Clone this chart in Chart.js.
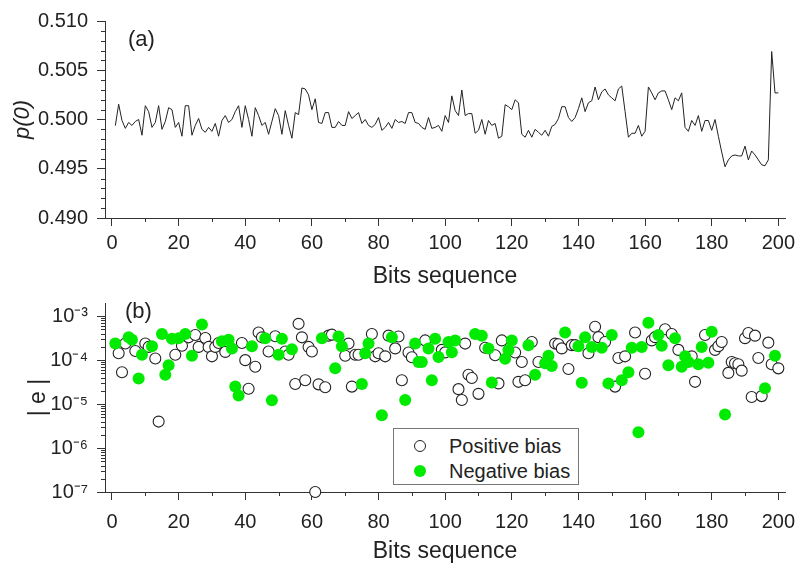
<!DOCTYPE html>
<html>
<head>
<meta charset="utf-8">
<script src="https://cdn.jsdelivr.net/npm/chart.js@4.4.1/dist/chart.umd.min.js"></script>
<style>
  body { margin: 0; background: #fff; }
  #wrap { position: relative; width: 795px; height: 565px; font-family: "Liberation Sans", Arial, sans-serif; color: #222; }
  canvas { position: absolute; left: 0; }
  .panel { position: absolute; font-size: 22px; }
  #legend { position: absolute; left: 393px; top: 428px; width: 184px; height: 55px; border: 1px solid #777; background: #fff; font-size: 20px; }
  .row { position: absolute; left: 55px; line-height: 24px; }
  .mk { position: absolute; box-sizing: border-box; border-radius: 50%; }
</style>
</head>
<body>
<div id="wrap">
  <canvas id="bottomChart" width="795" height="283" style="top:282px"></canvas>
  <canvas id="topChart" width="795" height="290" style="top:0"></canvas>
  <div class="panel" style="left:128px;top:26px">(a)</div>
  <div class="panel" style="left:125px;top:298px">(b)</div>
  <div id="legend">
    <span class="mk" style="left:20px;top:11px;width:12px;height:12px;border:1.2px solid #222;background:#fff"></span>
    <div class="row" style="top:5px">Positive bias</div>
    <span class="mk" style="left:20px;top:36px;width:12px;height:12px;background:rgb(0,235,0)"></span>
    <div class="row" style="top:30px">Negative bias</div>
  </div>
</div>
<script>
// bit index 1..200
const bits = [];
for (let i = 1; i <= 200; i++) bits.push(i);

// panel (a): p(0) per bit
const p0 = [
  0.49938, 0.50155, 0.4999, 0.4991, 0.4997, 0.4994, 0.4998, 0.5000, 0.4984, 0.5014,
  0.5008, 0.4992, 0.4997, 0.5014, 0.4990, 0.4998, 0.5012, 0.5010, 0.4992, 0.4997,
  0.4983, 0.5014, 0.5014, 0.4984, 0.4994, 0.5001, 0.4990, 0.4987, 0.4992, 0.4988,
  0.4996, 0.4983, 0.4999, 0.5004, 0.4997, 0.5000, 0.5008, 0.5014, 0.4992, 0.5014,
  0.5000, 0.4983, 0.5012, 0.5004, 0.4994, 0.4997, 0.4985, 0.4998, 0.5011, 0.5004,
  0.4985, 0.5009, 0.4994, 0.4981, 0.5007, 0.5005, 0.5032, 0.5031, 0.5025, 0.5010,
  0.5021, 0.4997, 0.4996, 0.5007, 0.5007, 0.4992, 0.4992, 0.4998, 0.4994, 0.4994,
  0.5008, 0.5001, 0.5004, 0.5007, 0.4996, 0.5000, 0.4994, 0.4992, 0.4995, 0.5002,
  0.4989, 0.4992, 0.4997, 0.4991, 0.5000, 0.4997, 0.4998, 0.4996, 0.5007, 0.5007,
  0.4997, 0.4996, 0.4992, 0.4990, 0.5002, 0.4991, 0.4992, 0.4994, 0.4988, 0.5004,
  0.4997, 0.5024, 0.5009, 0.5004, 0.5030, 0.5004, 0.5006, 0.5006, 0.4986, 0.4989,
  0.5000, 0.4985, 0.4999, 0.4994, 0.4996, 0.4981, 0.4983, 0.5015, 0.5013, 0.5010,
  0.5020, 0.5017, 0.4985, 0.4982, 0.4989, 0.4982, 0.4990, 0.4987, 0.4984, 0.4989,
  0.4983, 0.4993, 0.4995, 0.5001, 0.5013, 0.5013, 0.5002, 0.4998, 0.5002, 0.5011,
  0.5022, 0.5008, 0.5017, 0.5019, 0.5033, 0.5020, 0.5028, 0.5031, 0.5025, 0.5022,
  0.5019, 0.5031, 0.5034, 0.5008, 0.4982, 0.4986, 0.4986, 0.4994, 0.4983, 0.4988,
  0.5033, 0.5027, 0.5020, 0.5027, 0.5029, 0.5029, 0.5020, 0.5010, 0.5022, 0.5019,
  0.5027, 0.4992, 0.4988, 0.4999, 0.4994, 0.5004, 0.4988, 0.4999, 0.4999, 0.4989,
  0.5000, 0.4983, 0.4967, 0.4952, 0.4959, 0.4963, 0.4964, 0.4963, 0.4963, 0.4973,
  0.4959, 0.4968, 0.4964, 0.4959, 0.4954, 0.4953, 0.4959, 0.5069, 0.5027, 0.5027
];

// panel (b): |e|, positive bias
const posBits = [2, 3, 4, 7, 10, 11, 13, 14, 19, 21, 23, 25, 26, 28, 29, 30, 31, 32, 34, 39,
  40, 41, 43, 44, 45, 47, 49, 52, 53, 55, 56, 57, 58, 59, 60, 61, 62, 64, 65, 66,
  70, 71, 72, 73, 74, 78, 79, 80, 82, 83, 85, 86, 87, 89, 90, 94, 99, 100, 104, 105,
  106, 107, 108, 110, 112, 115, 116, 117, 121, 122, 123, 124, 126, 128, 133, 134, 135, 137, 138, 139,
  143, 145, 146, 148, 151, 152, 154, 157, 160, 162, 163, 166, 168, 170, 174, 175, 178, 181, 182, 183,
  185, 186, 187, 188, 189, 190, 191, 192, 193, 194, 195, 197, 198, 200];
const posErr = [1.44e-4, 5.3e-5, 2.4e-4, 1.62e-4, 2.4e-4, 2.0e-4, 1.09e-4, 4.0e-6, 1.33e-4, 2.12e-4,
  3.3e-4, 3.73e-4, 2.0e-4, 3.2e-4, 2.0e-4, 1.22e-4, 2.0e-4, 2.46e-4, 1.54e-4, 2.46e-4,
  1.0e-4, 2.23e-5, 7.05e-5, 4.26e-4, 3.3e-4, 1.57e-4, 3.49e-4, 1.57e-4, 1.33e-4, 2.87e-5,
  6.7e-4, 3.3e-4, 3.49e-5, 2.0e-4, 1.57e-4, 1.0e-7, 2.81e-5, 2.42e-5, 3.61e-4, 3.8e-4,
  1.26e-4, 2.38e-4, 2.5e-5, 1.33e-4, 1.33e-4, 3.93e-4, 1.22e-4, 1.44e-4, 1.22e-4, 3.61e-4,
  1.85e-4, 3.44e-4, 3.49e-5, 1.49e-4, 1.16e-4, 2.81e-4, 1.71e-4, 1.5e-4, 2.19e-5, 1.24e-5,
  2.38e-4, 4.65e-5, 3.93e-5, 1.71e-5, 1.92e-4, 1.29e-4, 2.96e-5, 2.81e-4, 1.49e-4, 3.21e-5,
  9.05e-5, 3.49e-5, 2.59e-4, 9.05e-5, 2.38e-4, 2.3e-4, 1.85e-4, 6.27e-5, 2.19e-4, 2.19e-4,
  1.44e-4, 5.77e-4, 3.33e-4, 2.59e-4, 2.5e-5, 1.12e-4, 1.22e-4, 4.26e-4, 4.9e-5, 2.81e-4,
  3.33e-4, 5.04e-4, 3.93e-4, 1.71e-4, 1.22e-4, 3.21e-5, 3.73e-4, 1.71e-4, 2.08e-4, 2.59e-4,
  5.13e-5, 9.05e-5, 8.47e-5, 8.05e-5, 5.77e-5, 3.16e-4, 4.13e-4, 1.45e-5, 3.61e-4, 1.12e-4,
  1.52e-5, 2.5e-4, 8.05e-5, 6.5e-5];

// panel (b): |e|, negative bias
const negBits = [1, 5, 6, 8, 9, 12, 15, 16, 17, 18, 20, 22, 24, 27, 33, 35, 36, 37, 38, 42,
  46, 48, 50, 51, 54, 63, 67, 68, 69, 75, 76, 77, 81, 84, 88, 91, 92, 93, 95, 96,
  97, 98, 101, 102, 103, 109, 111, 113, 114, 118, 119, 120, 125, 127, 130, 131, 132, 136, 140, 141,
  142, 144, 147, 149, 150, 153, 155, 156, 158, 159, 161, 164, 165, 167, 169, 171, 172, 173, 176, 177,
  179, 180, 184, 196, 199];
const negErr = [2.38e-4, 3.33e-4, 2.91e-4, 3.8e-5, 1.33e-4, 2.08e-4, 3.93e-4, 4.65e-5, 7.66e-5, 3.06e-4,
  3.16e-4, 3.93e-4, 1.26e-4, 6.49e-4, 2.68e-4, 2.91e-4, 1.85e-4, 2.5e-5, 1.57e-5, 2.08e-4,
  3.16e-4, 1.22e-5, 1.33e-4, 3.06e-4, 1.76e-4, 3.16e-4, 6.5e-5, 3.44e-4, 2.08e-4, 2.87e-5,
  1.44e-4, 2.38e-4, 5.57e-6, 3.33e-4, 1.24e-5, 2.38e-4, 9.05e-5, 9.05e-5, 1.85e-4, 3.49e-5,
  3.06e-4, 1.18e-4, 2.59e-4, 1.52e-4, 2.81e-4, 3.93e-4, 3.61e-4, 1.85e-4, 3.1e-5, 1.07e-4,
  1.71e-4, 2.81e-4, 2.19e-4, 4.65e-5, 8.47e-5, 1.26e-4, 7.4e-5, 4.26e-4, 2.08e-4, 3.05e-5,
  3.33e-4, 2.0e-4, 1.92e-4, 2.96e-5, 3.73e-4, 3.49e-5, 5.3e-5, 1.92e-4, 2.3e-6, 2.0e-4,
  7.05e-4, 3.73e-4, 2.12e-4, 7.66e-5, 3.16e-4, 7.1e-5, 1.22e-4, 9.05e-5, 8.05e-5, 2.0e-4,
  8.7e-5, 4.42e-4, 5.8e-6, 2.3e-5, 1.26e-4];

// axis ticks
const xTicks = [0, 20, 40, 60, 80, 100, 120, 140, 160, 180, 200];
const xMinor = [10, 30, 50, 70, 90, 110, 130, 150, 170, 190];
const pTicks = [0.490, 0.495, 0.500, 0.505, 0.510];
const pMinor = [];
for (let i = 491; i < 510; i++) if (i % 5 !== 0) pMinor.push(i / 1000);
const eTicks = [1e-7, 1e-6, 1e-5, 1e-4, 1e-3];
const eMinor = [];
for (let n = -7; n <= -3; n++) for (let k = 2; k <= 9; k++) if (k * Math.pow(10, n) < 0.00199) eMinor.push(k * Math.pow(10, n));

const sup = { '-': '\u207B', '3': '\u00B3', '4': '\u2074', '5': '\u2075', '6': '\u2076', '7': '\u2077' };
const axisColor = '#333';

Chart.defaults.font.family = '"Liberation Sans", Arial, sans-serif';
Chart.defaults.color = '#222';

// short unlabeled ticks between the labeled ones
const minorTicks = {
  id: 'minorTicks',
  afterDraw(chart, args, opts) {
    const ctx = chart.ctx;
    const area = chart.chartArea;
    ctx.save();
    ctx.strokeStyle = axisColor;
    ctx.lineWidth = 1;
    ctx.beginPath();
    opts.x.forEach(v => {
      const px = Math.round(chart.scales.x.getPixelForValue(v)) + 0.5;
      ctx.moveTo(px, area.bottom);
      ctx.lineTo(px, area.bottom + 4);
    });
    opts.y.forEach(v => {
      const py = Math.round(chart.scales.y.getPixelForValue(v)) + 0.5;
      ctx.moveTo(area.left, py);
      ctx.lineTo(area.left - 4, py);
    });
    ctx.stroke();
    ctx.restore();
  }
};

function xAxis(h, labelPad) {
  return {
    type: 'linear',
    min: -2.1,
    max: 202,
    afterBuildTicks: s => { s.ticks = xTicks.map(v => ({ value: v })); },
    // keep the plot edge fixed, the last label may hang over it
    afterFit: s => { s.height = h; s.paddingLeft = 0; s.paddingRight = 0; },
    grid: { drawOnChartArea: false, tickLength: 8, color: axisColor, tickColor: axisColor },
    border: { color: axisColor, width: 1 },
    ticks: { font: { size: 20 }, padding: labelPad, maxRotation: 0, color: '#222' },
    title: { display: true, text: 'Bits sequence', font: { size: 23 }, padding: { top: 0, bottom: 0 }, color: '#222' }
  };
}

new Chart(document.getElementById('topChart'), {
  type: 'line',
  data: {
    datasets: [{
      data: bits.map((b, i) => ({ x: b, y: p0[i] })),
      borderColor: '#222',
      borderWidth: 1,
      pointRadius: 0,
      tension: 0
    }]
  },
  options: {
    responsive: false,
    animation: false,
    devicePixelRatio: 1,
    layout: { padding: { left: 0, right: 10, top: 19, bottom: 0 } },
    plugins: { legend: { display: false }, tooltip: { enabled: false }, minorTicks: { x: xMinor, y: pMinor } },
    scales: {
      x: xAxis(72, 5),
      y: {
        min: 0.490,
        max: 0.510,
        afterBuildTicks: s => { s.ticks = pTicks.map(v => ({ value: v })); },
        afterFit: s => { s.width = 105; },
        grid: { drawOnChartArea: false, tickLength: 8, color: axisColor, tickColor: axisColor },
        border: { color: axisColor, width: 1 },
        ticks: { font: { size: 20 }, padding: 9, color: '#222', callback: v => v.toFixed(3) },
        title: { display: true, text: 'p(0)', font: { size: 22, style: 'italic' }, padding: { top: 10, bottom: 0 }, color: '#222' }
      }
    }
  },
  plugins: [minorTicks]
});

new Chart(document.getElementById('bottomChart'), {
  type: 'scatter',
  data: {
    datasets: [
      {
        label: 'Positive bias',
        data: posBits.map((b, i) => ({ x: b, y: posErr[i] })),
        pointRadius: 5.5,
        pointBackgroundColor: '#fff',
        pointBorderColor: '#222',
        pointBorderWidth: 1.1,
        clip: false,
        order: 2
      },
      {
        label: 'Negative bias',
        data: negBits.map((b, i) => ({ x: b, y: negErr[i] })),
        pointRadius: 6,
        pointBackgroundColor: 'rgb(0,235,0)',
        pointBorderWidth: 0,
        clip: false,
        order: 1
      }
    ]
  },
  options: {
    responsive: false,
    animation: false,
    devicePixelRatio: 1,
    layout: { padding: { left: 0, right: 10, top: 12, bottom: 0 } },
    plugins: { legend: { display: false }, tooltip: { enabled: false }, minorTicks: { x: xMinor, y: eMinor } },
    scales: {
      x: xAxis(73, 10),
      y: {
        type: 'logarithmic',
        min: 1e-7,
        max: 0.001995,
        afterBuildTicks: s => { s.ticks = eTicks.map(v => ({ value: v })); },
        afterFit: s => { s.width = 105; },
        grid: { drawOnChartArea: false, tickLength: 8, color: axisColor, tickColor: axisColor },
        border: { color: axisColor, width: 1 },
        ticks: {
          font: { size: 20 }, padding: 9, color: '#222',
          callback: v => '10' + String(Math.round(Math.log10(v))).split('').map(c => sup[c]).join('')
        },
        title: { display: true, text: '| e |', font: { size: 23 }, padding: { top: 25, bottom: 0 }, color: '#222' }
      }
    }
  },
  plugins: [minorTicks]
});
</script>
</body>
</html>
